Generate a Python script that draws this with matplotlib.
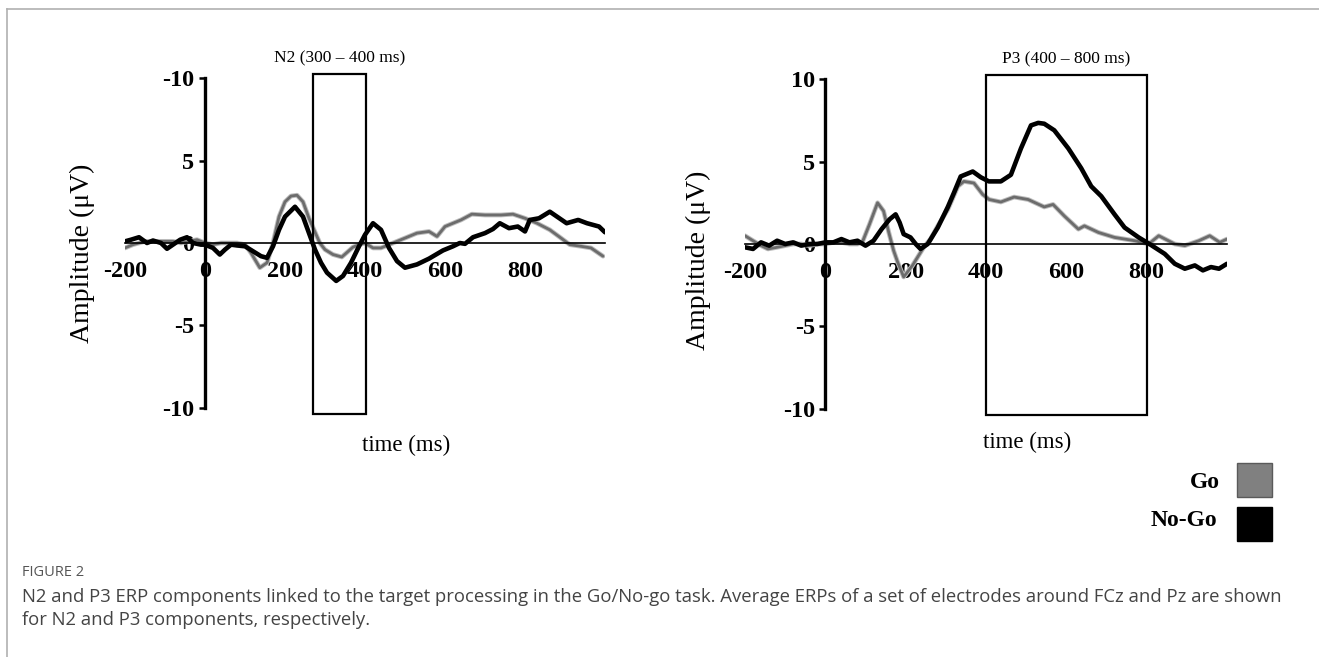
import numpy as np
import matplotlib
matplotlib.use("Agg")
import matplotlib.pyplot as plt
from matplotlib.patches import Rectangle

# ---- data ----
n2_go_t = [-200, -180, -150, -120, -100, -80, -60, -40, -20, 0, 20, 40, 60, 80, 100, 115, 137, 155,
           170, 185, 200, 215, 230, 245, 260, 287, 300, 320, 342, 370, 385, 400, 420, 440, 470, 500,
           530, 560, 580, 600, 620, 640, 667, 700, 740, 770, 800, 830, 862, 890, 912, 940, 965, 995]
n2_go_v = [-0.3, -0.1, 0.1, 0.1, 0.1, 0.1, 0.0, 0.1, 0.2, 0.0, -0.1, 0.0, 0.0, 0.0, -0.1, -0.6, -1.5, -1.2,
           0.0, 1.6, 2.5, 2.85, 2.9, 2.5, 1.5, 0.0, -0.4, -0.7, -0.85, -0.25, -0.1, 0.0, -0.3, -0.3, 0.0, 0.3,
           0.6, 0.7, 0.4, 1.0, 1.2, 1.4, 1.75, 1.7, 1.7, 1.75, 1.5, 1.2, 0.8, 0.3, -0.1, -0.2, -0.3, -0.8]

n2_nogo_t = [-200, -185, -165, -145, -130, -110, -95, -80, -62, -45, -30, -10, 0, 20, 37, 50, 65, 80,
             100, 120, 140, 155, 170, 185, 200, 225, 245, 260, 275, 290, 305, 328, 345, 365, 385, 400,
             420, 440, 460, 480, 500, 530, 560, 595, 620, 637, 650, 670, 700, 720, 737, 760, 782, 800,
             812, 835, 862, 880, 904, 933, 955, 970, 985, 1000]
n2_nogo_v = [0.1, 0.2, 0.35, 0.0, 0.15, 0.0, -0.35, -0.1, 0.2, 0.35, 0.0, -0.1, -0.1, -0.3, -0.7, -0.4, -0.1, -0.15,
             -0.2, -0.5, -0.8, -0.9, -0.2, 0.8, 1.6, 2.2, 1.6, 0.6, -0.4, -1.2, -1.8, -2.3, -2.0, -1.2, -0.2, 0.5,
             1.2, 0.8, -0.3, -1.1, -1.5, -1.3, -0.95, -0.45, -0.2, 0.0, -0.05, 0.35, 0.6, 0.85, 1.2, 0.9, 1.0, 0.7,
             1.4, 1.5, 1.9, 1.6, 1.2, 1.4, 1.2, 1.1, 1.0, 0.65]

p3_go_t = [-200, -180, -160, -143, -120, -100, -80, -60, -40, -20, 0, 20, 40, 60, 80, 92, 110, 130, 145,
           158, 170, 180, 195, 217, 245, 262, 280, 305, 330, 345, 370, 392, 408, 437, 470, 505, 545, 567,
           595, 630, 645, 680, 720, 770, 805, 830, 870, 895, 930, 957, 982, 1000]
p3_go_v = [0.5, 0.2, -0.1, -0.3, -0.2, -0.1, 0.0, 0.0, -0.1, 0.0, 0.0, 0.1, 0.1, 0.0, 0.0, 0.1, 1.2, 2.5, 2.0,
           0.7, -0.4, -1.1, -2.0, -1.3, -0.2, 0.3, 1.1, 2.1, 3.5, 3.8, 3.7, 3.0, 2.7, 2.55, 2.85, 2.7, 2.25, 2.4,
           1.7, 0.9, 1.1, 0.7, 0.4, 0.2, 0.0, 0.5, 0.0, -0.1, 0.2, 0.5, 0.1, 0.3]

p3_nogo_t = [-200, -180, -160, -140, -120, -100, -80, -60, -40, -20, 0, 20, 40, 60, 80, 100, 120, 140,
             160, 175, 185, 195, 212, 225, 237, 255, 280, 305, 320, 337, 367, 387, 407, 437, 462, 487,
             512, 530, 545, 570, 605, 637, 662, 687, 720, 745, 780, 807, 845, 870, 895, 920, 940, 960,
             980, 1000]
p3_nogo_v = [-0.2, -0.3, 0.1, -0.1, 0.2, 0.0, 0.1, -0.1, 0.0, 0.0, 0.1, 0.1, 0.3, 0.1, 0.2, -0.1, 0.2, 0.9,
             1.5, 1.8, 1.3, 0.6, 0.4, 0.0, -0.3, 0.0, 1.0, 2.25, 3.1, 4.1, 4.4, 4.05, 3.8, 3.8, 4.2, 5.8,
             7.2, 7.35, 7.3, 6.9, 5.8, 4.6, 3.5, 2.9, 1.8, 1.0, 0.4, 0.0, -0.6, -1.2, -1.5, -1.3, -1.6, -1.4,
             -1.5, -1.2]

x_ticks = [-200, 0, 200, 400, 600, 800]
y_ticks = [10, 5, 0, -5, -10]
n2_ylabels = ["-10", "5", "0", "-5", "-10"]   # as printed in the original
p3_ylabels = ["10", "5", "0", "-5", "-10"]

n2_window = (270, 402)
p3_window = (400, 800)

GO_COL = "#6c6c6c"
SERIF = "Liberation Serif"

W, H = 1319, 657
fig = plt.figure(figsize=(W / 100, H / 100), dpi=100)


def px_axes(x0, y_top, w, h):
    return fig.add_axes([x0 / W, 1 - (y_top + h) / H, w / W, h / H])


def erp_panel(ax, go_t, go_v, ng_t, ng_v, ylabels, window, title):
    ax.set_xlim(-200, 1000)
    ax.set_ylim(-10.5, 10.5)
    ax.patch.set_alpha(0)
    ax.plot(go_t, go_v, color="#bdbdbd", lw=3.4, solid_capstyle="round", solid_joinstyle="round", zorder=2)
    ax.plot(go_t, go_v, color=GO_COL, lw=2.0, solid_capstyle="round", solid_joinstyle="round", zorder=2)
    ax.plot(ng_t, ng_v, color="black", lw=3.3, solid_capstyle="round", solid_joinstyle="round", zorder=3)

    for s in ["top", "right"]:
        ax.spines[s].set_visible(False)
    ax.spines["left"].set_position(("data", 0))
    ax.spines["left"].set_bounds(-10, 10)
    ax.spines["left"].set_linewidth(2.4)
    ax.spines["bottom"].set_position(("data", 0))
    ax.spines["bottom"].set_linewidth(1.2)

    ax.set_xticks(x_ticks)
    ax.set_xticklabels([str(v) for v in x_ticks])
    ax.set_yticks(y_ticks)
    ax.set_yticklabels(ylabels)
    ax.tick_params(axis="x", length=0, pad=13)
    ax.tick_params(axis="y", length=4.5, width=1.8, pad=3)
    for lab in ax.get_xticklabels() + ax.get_yticklabels():
        lab.set_fontfamily(SERIF)
        lab.set_fontweight("bold")
        lab.set_fontsize(17.5)

    x0, x1 = window
    ax.add_patch(Rectangle((x0, -10.35), x1 - x0, 20.6, fill=False, ec="black", lw=1.6,
                           clip_on=False, zorder=4))
    ax.text((x0 + x1) / 2, 11.2, title, ha="center", va="center", fontsize=12.5,
            family=SERIF)


ax1 = px_axes(125, 70, 480, 346)
erp_panel(ax1, n2_go_t, n2_go_v, n2_nogo_t, n2_nogo_v, n2_ylabels, n2_window, "N2 (300 – 400 ms)")

ax2 = px_axes(745, 71, 482, 346)
erp_panel(ax2, p3_go_t, p3_go_v, p3_nogo_t, p3_nogo_v, p3_ylabels, p3_window, "P3 (400 – 800 ms)")

# axis titles
fig.text(82 / W, 1 - 253 / H, "Amplitude (μV)", rotation=90, ha="center", va="center",
         fontsize=20, family=SERIF)
fig.text(698 / W, 1 - 260 / H, "Amplitude (μV)", rotation=90, ha="center", va="center",
         fontsize=20, family=SERIF)
fig.text(406 / W, 1 - 445 / H, "time (ms)", ha="center", va="center", fontsize=16.5, family=SERIF)
fig.text(1027 / W, 1 - 442 / H, "time (ms)", ha="center", va="center", fontsize=16.5, family=SERIF)

# legend
fig.text(1220 / W, 1 - 483 / H, "Go", ha="right", va="center", fontsize=17, family=SERIF,
         fontweight="bold")
fig.text(1217 / W, 1 - 520 / H, "No-Go", ha="right", va="center", fontsize=17, family=SERIF,
         fontweight="bold")
fig.patches.append(Rectangle((1237 / W, 1 - 497 / H), 35 / W, 34 / H, transform=fig.transFigure,
                             fc="#808080", ec="#5a5a5a", lw=1))
fig.patches.append(Rectangle((1237 / W, 1 - 541 / H), 35 / W, 34 / H, transform=fig.transFigure,
                             fc="black", ec="black", lw=1))

# frame lines
fig.add_artist(plt.Line2D([7 / W, 1], [1 - 9 / H, 1 - 9 / H], color="#b0b0b0", lw=1.2,
                          transform=fig.transFigure))
fig.add_artist(plt.Line2D([7 / W, 7 / W], [1 - 9 / H, 0], color="#b0b0b0", lw=1.2,
                          transform=fig.transFigure))

# caption
fig.text(22 / W, 1 - 573 / H, "FIGURE 2", ha="left", va="center", fontsize=10.5, family="Open Sans",
         color="#555555")
fig.text(22 / W, 1 - 597 / H,
         "N2 and P3 ERP components linked to the target processing in the Go/No-go task. "
         "Average ERPs of a set of electrodes around FCz and Pz are shown",
         ha="left", va="center", fontsize=13.3, family="Open Sans", color="#444444")
fig.text(22 / W, 1 - 620 / H, "for N2 and P3 components, respectively.",
         ha="left", va="center", fontsize=13.3, family="Open Sans", color="#444444")

fig.savefig("out.png", dpi=100)
